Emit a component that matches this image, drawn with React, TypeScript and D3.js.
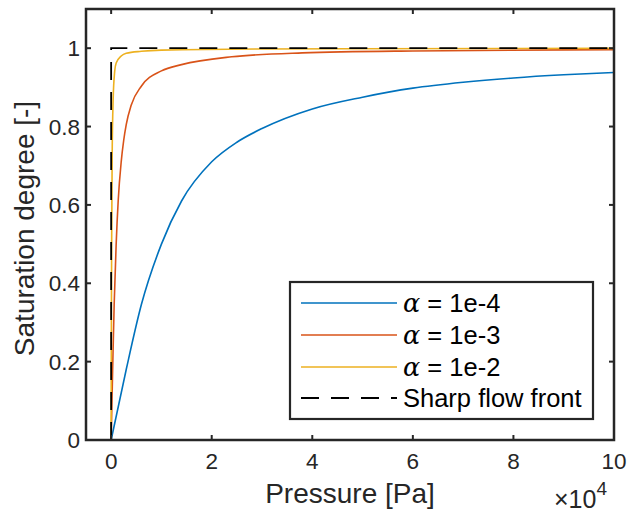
import React from "react";
import * as d3 from "d3";

// Pressure in Pa, saturation degree [-]
const bluePressure = [0, 3000, 6000, 10000, 14000, 20000, 25000, 30000, 40000, 50000, 60000, 70000, 80000, 90000, 100000];
const blueSat = [0, 0.18, 0.345, 0.5, 0.61, 0.71, 0.76, 0.795, 0.845, 0.875, 0.898, 0.913, 0.924, 0.932, 0.938];

const redPressure = [0, 300, 600, 1000, 1400, 2000, 2500, 3000, 4000, 6000, 10000, 14000, 24000, 38000, 60000, 100000];
const redSat = [0, 0.18, 0.345, 0.5, 0.61, 0.71, 0.765, 0.805, 0.855, 0.903, 0.942, 0.958, 0.978, 0.988, 0.993, 0.996];

const yellowPressure = [0, 30, 60, 100, 200, 400, 700, 1000, 2000, 3000, 6000, 10000, 30000, 100000];
const yellowSat = [0, 0.18, 0.345, 0.5, 0.72, 0.87, 0.94, 0.962, 0.98, 0.987, 0.992, 0.995, 0.998, 0.9995];

const frontPressure = [0, 0, 100000];
const frontSat = [0, 1, 1];

const seriesNames = ["1e-4", "1e-3", "1e-2"];
const seriesColors = ["#0072BD", "#D95319", "#EDB120"];
const frontLabel = "Sharp flow front";

const xTicks = [0, 20000, 40000, 60000, 80000, 100000];
const xTickLabels = ["0", "2", "4", "6", "8", "10"];
const yTicks = [0, 0.2, 0.4, 0.6, 0.8, 1];
const yTickLabels = ["0", "0.2", "0.4", "0.6", "0.8", "1"];

const W = 629;
const H = 513;
const L = 86, R = 614, T = 9, B = 440;
const FONT = "'Liberation Sans', Arial, Helvetica, sans-serif";
const AX = "#262626";

export default function App() {
  const x = d3.scaleLinear().domain([-5000, 100000]).range([L, R]);
  const y = d3.scaleLinear().domain([0, 1.1]).range([B, T]);
  const line = d3
    .line<[number, number]>()
    .x((d) => x(d[0]))
    .y((d) => y(d[1]))
    .curve(d3.curveMonotoneX);
  const straight = d3
    .line<[number, number]>()
    .x((d) => x(d[0]))
    .y((d) => y(d[1]));

  const series = [
    { p: bluePressure, s: blueSat },
    { p: redPressure, s: redSat },
    { p: yellowPressure, s: yellowSat },
  ].map((d, i) => ({
    pts: d.p.map((v, j) => [v, d.s[j]] as [number, number]),
    color: seriesColors[i],
    name: seriesNames[i],
  }));
  const front = frontPressure.map((v, j) => [v, frontSat[j]] as [number, number]);

  const tickLen = 5;
  const legX = 290, legY = 282, legW = 303, legH = 137;
  const rowY = [303, 335, 367, 398];

  return (
    <svg
      width={W}
      height={H}
      style={{ position: "absolute", left: 0, top: 0, background: "#fff" }}
      fontFamily={FONT}
    >
      <rect x={0} y={0} width={W} height={H} fill="#fff" />
      <defs>
        <clipPath id="plotclip">
          <rect x={L} y={T} width={R - L} height={B - T} />
        </clipPath>
      </defs>
      <g clipPath="url(#plotclip)">
        {series.map((s, i) => (
          <path key={i} d={line(s.pts) || ""} fill="none" stroke={s.color} strokeWidth={1.6} />
        ))}
        <path d={straight(front) || ""} fill="none" stroke="#000" strokeWidth={1.8} strokeDasharray="18 12" />
      </g>
      {/* ticks */}
      {xTicks.map((t, i) => (
        <g key={"xt" + i}>
          <line x1={x(t)} x2={x(t)} y1={B} y2={B - tickLen} stroke={AX} strokeWidth={2} />
          <line x1={x(t)} x2={x(t)} y1={T} y2={T + tickLen} stroke={AX} strokeWidth={2} />
          <text x={x(t)} y={469} textAnchor="middle" fontSize={22.5} fill={AX}>
            {xTickLabels[i]}
          </text>
        </g>
      ))}
      {yTicks.map((t, i) => (
        <g key={"yt" + i}>
          <line x1={L} x2={L + tickLen} y1={y(t)} y2={y(t)} stroke={AX} strokeWidth={2} />
          <line x1={R} x2={R - tickLen} y1={y(t)} y2={y(t)} stroke={AX} strokeWidth={2} />
          <text x={80} y={y(t)} dy="0.36em" textAnchor="end" fontSize={22.5} fill={AX}>
            {yTickLabels[i]}
          </text>
        </g>
      ))}
      <rect x={L} y={T} width={R - L} height={B - T} fill="none" stroke={AX} strokeWidth={2.5} />
      {/* labels */}
      <text x={(L + R) / 2} y={503} textAnchor="middle" fontSize={28} fill={AX}>
        Pressure [Pa]
      </text>
      <text
        transform={`translate(34,${(T + B) / 2 + 4}) rotate(-90)`}
        textAnchor="middle"
        fontSize={28}
        fill={AX}
      >
        Saturation degree [-]
      </text>
      <text x={554} y={508} fontSize={25} fill={AX}>
        ×10
        <tspan dy={-13} fontSize={19}>4</tspan>
      </text>
      {/* legend */}
      <rect x={legX} y={legY} width={legW} height={legH} fill="#fff" stroke={AX} strokeWidth={2.2} />
      {series.map((s, i) => (
        <g key={"lg" + i}>
          <line x1={301} x2={397} y1={rowY[i]} y2={rowY[i]} stroke={s.color} strokeWidth={1.6} />
          <text x={403} y={rowY[i]} dy="0.36em" fontSize={25.5} fill="#000">
            <tspan fontFamily="'DejaVu Serif', serif" fontStyle="italic">α</tspan>
            {" = " + s.name}
          </text>
        </g>
      ))}
      <line x1={301} x2={397} y1={rowY[3]} y2={rowY[3]} stroke="#000" strokeWidth={1.8} strokeDasharray="18 12" />
      <text x={403} y={rowY[3]} dy="0.36em" fontSize={25.5} fill="#000">
        {frontLabel}
      </text>
    </svg>
  );
}
